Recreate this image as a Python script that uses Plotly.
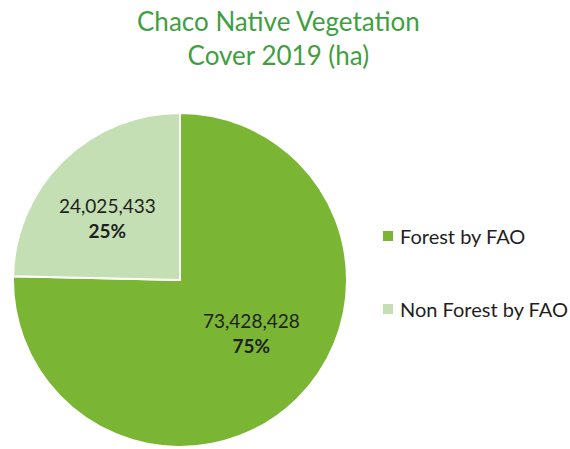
import plotly.graph_objects as go

# Chaco native vegetation cover, 2019 (hectares)
labels = ["Forest by FAO", "Non Forest by FAO"]
values = [73428428, 24025433]
colors = ["#7ab634", "#c4dfb3"]

W, H = 570, 449
FONT = "Lato"
TEXT_DARK = "#1f1f1f"

total = sum(values)
pct = [round(v / total * 100) for v in values]

fig = go.Figure(
    go.Pie(
        labels=labels,
        values=values,
        sort=False,
        direction="clockwise",
        rotation=0,
        marker=dict(colors=colors, line=dict(color="white", width=2)),
        textinfo="none",
        hoverinfo="label+value+percent",
        showlegend=False,
        domain=dict(x=[13 / W, 347 / W], y=[1 - 447 / H, 1 - 113 / H]),
    )
)

# slice labels: value with bold percentage underneath
label_pos = [(251, 333), (107, 218)]
annotations = []
for (px, py), v, p in zip(label_pos, values, pct):
    annotations.append(
        dict(
            x=px / W, y=1 - py / H, xref="paper", yref="paper",
            text=f"{v:,}<br><b>{p}%</b>",
            showarrow=False, xanchor="center", yanchor="middle",
            font=dict(family=FONT, size=19, color=TEXT_DARK),
            align="center",
        )
    )

# legend drawn as square swatches with text
legend_y = [236, 309]
shapes = []
for ly, lab, col in zip(legend_y, labels, colors):
    shapes.append(
        dict(
            type="rect", xref="paper", yref="paper",
            x0=383 / W, x1=393 / W, y0=1 - (ly + 5) / H, y1=1 - (ly - 5) / H,
            fillcolor=col, line=dict(width=0),
        )
    )
    annotations.append(
        dict(
            x=398 / W, y=1 - ly / H, xref="paper", yref="paper",
            text=lab, showarrow=False, xanchor="left", yanchor="middle",
            font=dict(family=FONT, size=20, color=TEXT_DARK),
        )
    )

# chart title
annotations.append(
    dict(
        x=278 / W, y=1 - 38 / H, xref="paper", yref="paper",
        text="Chaco Native Vegetation<br>Cover 2019 (ha)",
        showarrow=False, xanchor="center", yanchor="middle", align="center",
        font=dict(family=FONT, size=26, color="#3f9f3f"),
    )
)

fig.update_layout(
    width=W,
    height=H,
    margin=dict(l=0, r=0, t=0, b=0),
    paper_bgcolor="white",
    plot_bgcolor="white",
    annotations=annotations,
    shapes=shapes,
)

fig.write_html("out.html")
